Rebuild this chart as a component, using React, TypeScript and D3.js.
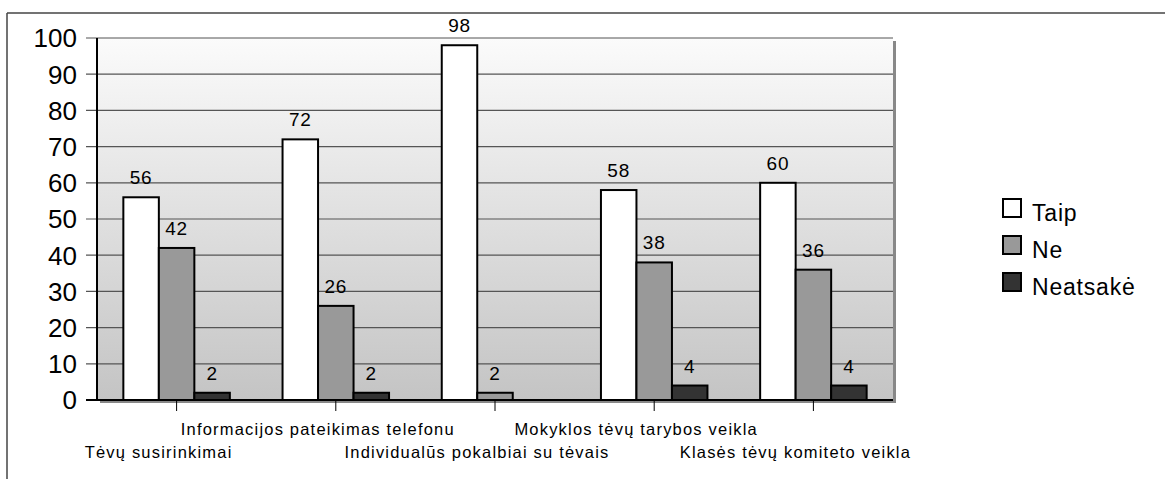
import React from "react";
import { scaleBand, scaleLinear, range } from "d3";

const categories = [
  "Tėvų susirinkimai",
  "Informacijos pateikimas telefonu",
  "Individualūs pokalbiai su tėvais",
  "Mokyklos tėvų tarybos veikla",
  "Klasės tėvų komiteto veikla",
];
const seriesNames = ["Taip", "Ne", "Neatsakė"];
const taip = [56, 72, 98, 58, 60];
const ne = [42, 26, 2, 38, 36];
const neatsake = [2, 2, 0, 4, 4];
const yTicks = [0, 10, 20, 30, 40, 50, 60, 70, 80, 90, 100];

const colors = ["#ffffff", "#999999", "#333333"];
const font = "'Liberation Sans', Arial, sans-serif";

function App() {
  const left = 97,
    right = 893,
    top = 38,
    bottom = 400;
  const series = [taip, ne, neatsake];

  const x = scaleBand<number>().domain(range(categories.length)).range([left, right]);
  const y = scaleLinear().domain([0, 100]).range([bottom, top]);
  const barW = 35.5;
  const groupW = barW * 3;

  return (
    <svg
      width={1165}
      height={479}
      style={{ position: "absolute", left: 0, top: 0, background: "#fff" }}
      fontFamily={font}
    >
      <defs>
        <linearGradient id="bg" x1="0" y1="0" x2="0" y2="1">
          <stop offset="0" stopColor="#fbfbfb" />
          <stop offset="1" stopColor="#c4c4c4" />
        </linearGradient>
      </defs>
      {/* outer frame */}
      <line x1={7} y1={13} x2={1165} y2={13} stroke="#444" strokeWidth={1.5} />
      <line x1={7} y1={13} x2={7} y2={479} stroke="#444" strokeWidth={1.5} />

      {/* plot area */}
      <rect x={left + 3} y={top + 3} width={right - left} height={bottom - top} fill="#888" />
      <rect x={left} y={top} width={right - left} height={bottom - top} fill="url(#bg)" />
      {yTicks.map((t) => (
        <g key={t}>
          <line x1={86} x2={right} y1={y(t)} y2={y(t)} stroke={t === 0 ? "#000" : "#555"} strokeWidth={t === 0 ? 2 : 1.2} />
          <text x={77} y={y(t)} dy="0.36em" textAnchor="end" fontSize={26} fill="#000">
            {t}
          </text>
        </g>
      ))}
      <line x1={left} x2={left} y1={top} y2={bottom} stroke="#000" strokeWidth={2} />

      {/* bars */}
      {categories.map((c, i) => {
        const cx = x(i)! + x.bandwidth() / 2;
        return (
          <g key={c}>
            <line x1={cx} x2={cx} y1={bottom} y2={411} stroke="#000" strokeWidth={1} />
            {series.map((s, j) => {
              const v = s[i];
              const bx = cx - groupW / 2 + j * barW;
              if (v === 0) return null;
              return (
                <g key={j}>
                  <rect
                    x={bx}
                    y={y(v)}
                    width={barW}
                    height={bottom - y(v)}
                    fill={colors[j]}
                    stroke="#000"
                    strokeWidth={2}
                  />
                  <text x={bx + barW / 2} y={y(v) - 13} textAnchor="middle" fontSize={19} letterSpacing={0.8} fill="#000">
                    {v}
                  </text>
                </g>
              );
            })}
            <text
              x={cx - 18}
              y={i % 2 === 0 ? 458 : 435}
              textAnchor="middle"
              fontSize={16.5}
              letterSpacing={1.2}
              fill="#000"
            >
              {c}
            </text>
          </g>
        );
      })}

      {/* legend */}
      {seriesNames.map((n, j) => (
        <g key={n} transform={`translate(1003,${199 + j * 37})`}>
          <rect x={0} y={0} width={18} height={18} fill={colors[j]} stroke="#000" strokeWidth={2} />
          <text x={29} y={22} fontSize={23} letterSpacing={0.8} fill="#000">
            {n}
          </text>
        </g>
      ))}
    </svg>
  );
}

export default App;
